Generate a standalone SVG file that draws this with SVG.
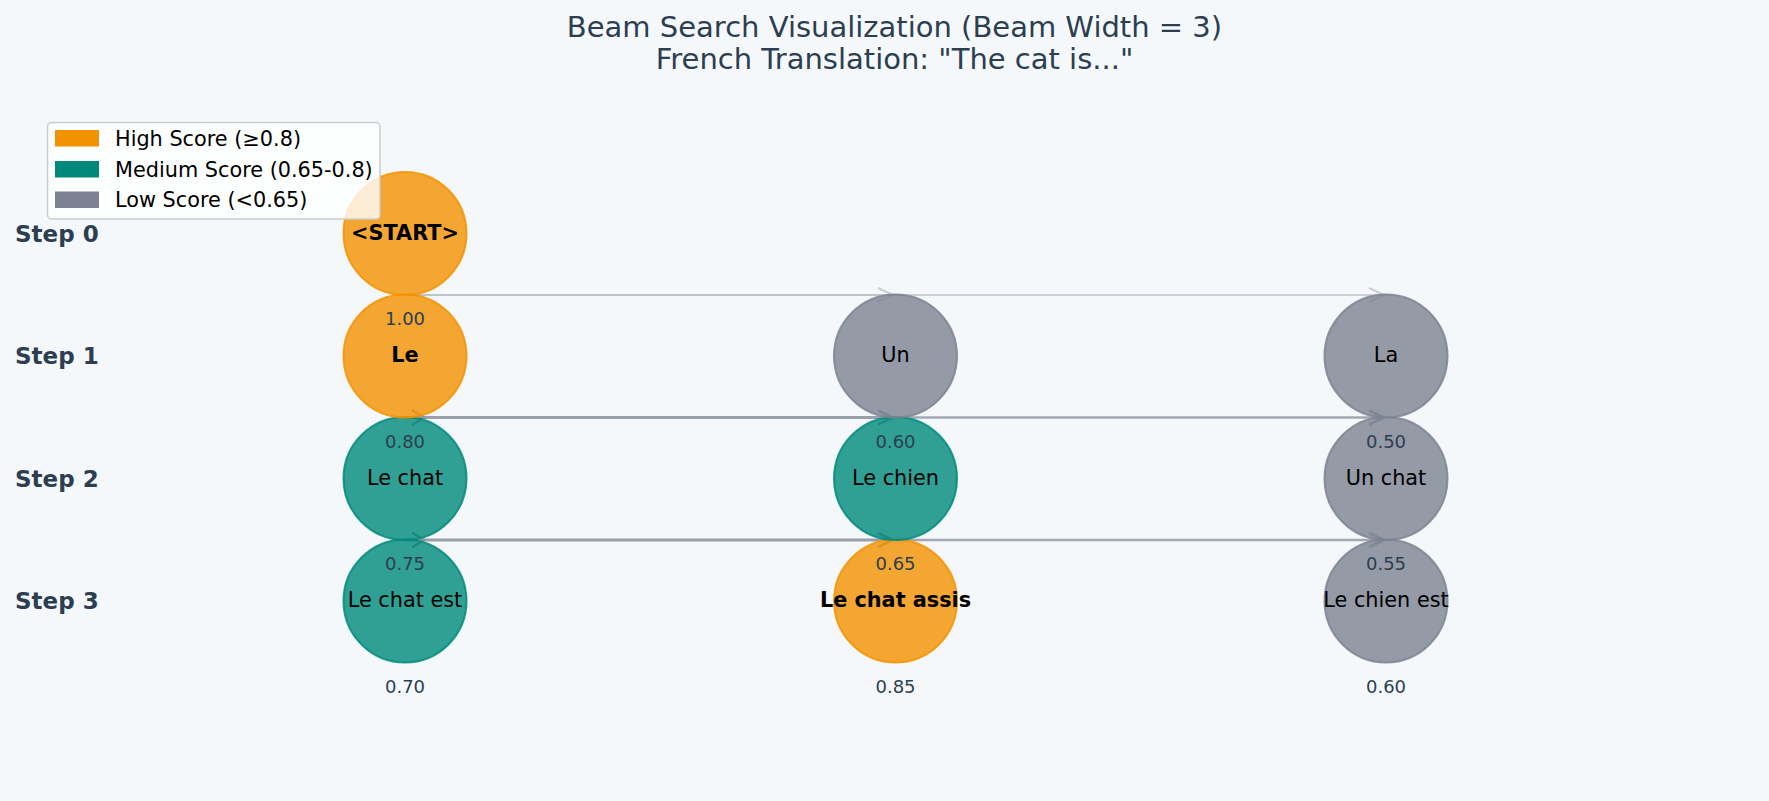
<svg xmlns="http://www.w3.org/2000/svg" width="1769" height="801" viewBox="0 0 1769 801">
<defs>
<style>
text{font-family:"DejaVu Sans","Liberation Sans",sans-serif}
.title{font-size:29px;fill:#2c3e50;text-anchor:middle}
.step{font-size:23px;font-weight:bold;fill:#2c3e50}
.lbl{font-size:20.8px;fill:#000;text-anchor:middle}
.b{font-weight:bold}
.sc{font-size:18px;fill:#2c3e50;text-anchor:middle}
.hi{fill:#F39200;fill-opacity:0.8;stroke:#F39200;stroke-opacity:0.85;stroke-width:2}
.md{fill:#00897B;fill-opacity:0.8;stroke:#00897B;stroke-opacity:0.85;stroke-width:2}
.lo{fill:#7C8291;fill-opacity:0.8;stroke:#7C8291;stroke-opacity:0.85;stroke-width:2}
.e0{stroke:#CDD1D7;stroke-width:2;fill:none}
.e0b{stroke:#BFC4CB;stroke-width:2;fill:none}
.e1{stroke:#9AA0AA;stroke-width:3;fill:none}
.e2{stroke:#A3A9B2;stroke-width:2.5;fill:none}
.leg{font-size:20.8px;fill:#000}
</style>
<marker id="aL" markerUnits="userSpaceOnUse" markerWidth="20" markerHeight="20" viewBox="-18 -10 20 20" refX="0" refY="0" orient="auto">
<path d="M-15,-7 L0,0 L-15,7" fill="none" stroke="#C8CCD3" stroke-width="2"/>
</marker>
<marker id="aD" markerUnits="userSpaceOnUse" markerWidth="20" markerHeight="20" viewBox="-18 -10 20 20" refX="0" refY="0" orient="auto">
<path d="M-15,-7 L0,0 L-15,7" fill="none" stroke="#8E949F" stroke-width="2.5"/>
</marker>
</defs>
<rect width="1769" height="801" fill="#F5F8FB"/>
<text class="title" x="894.5" y="37">Beam Search Visualization (Beam Width = 3)</text>
<text class="title" x="894.5" y="68.5">French Translation: "The cat is..."</text>
<g id="step-labels">
<text class="step" x="15" y="241.5">Step 0</text>
<text class="step" x="15" y="364">Step 1</text>
<text class="step" x="15" y="486.5">Step 2</text>
<text class="step" x="15" y="609">Step 3</text>
</g>
<g id="connectors">
<line class="e0" x1="405" y1="295" x2="1384" y2="295" marker-end="url(#aL)"/>
<line class="e0b" x1="405" y1="295" x2="893" y2="295" marker-end="url(#aL)"/>
<line class="e1" x1="405" y1="417.5" x2="893" y2="417.5" marker-end="url(#aD)"/>
<line class="e2" x1="895.5" y1="417.5" x2="1384" y2="417.5" marker-end="url(#aD)"/>
<path d="M412,410 L424,417.5 L412,425" fill="none" stroke="#8E949F" stroke-width="2.5"/>
<line class="e1" x1="405" y1="540" x2="893" y2="540" marker-end="url(#aD)"/>
<line class="e2" x1="895.5" y1="540" x2="1384" y2="540" marker-end="url(#aD)"/>
<path d="M412,532.5 L424,540 L412,547.5" fill="none" stroke="#8E949F" stroke-width="2.5"/>
</g>
<g id="node-le-chat-est"><circle class="md" cx="405" cy="601" r="61.5"/><text class="lbl" x="405" y="607">Le chat est</text><text class="sc" x="405" y="692.5">0.70</text></g>
<g id="node-le-chat-assis"><circle class="hi" cx="895.5" cy="601" r="61.5"/><text class="lbl b" x="895.5" y="607">Le chat assis</text><text class="sc" x="895.5" y="692.5">0.85</text></g>
<g id="node-le-chien-est"><circle class="lo" cx="1386" cy="601" r="61.5"/><text class="lbl" x="1386" y="607">Le chien est</text><text class="sc" x="1386" y="692.5">0.60</text></g>
<g id="node-le-chat"><circle class="md" cx="405" cy="478.5" r="61.5"/><text class="lbl" x="405" y="484.5">Le chat</text><text class="sc" x="405" y="570">0.75</text></g>
<g id="node-le-chien"><circle class="md" cx="895.5" cy="478.5" r="61.5"/><text class="lbl" x="895.5" y="484.5">Le chien</text><text class="sc" x="895.5" y="570">0.65</text></g>
<g id="node-un-chat"><circle class="lo" cx="1386" cy="478.5" r="61.5"/><text class="lbl" x="1386" y="484.5">Un chat</text><text class="sc" x="1386" y="570">0.55</text></g>
<g id="node-le"><circle class="hi" cx="405" cy="356" r="61.5"/><text class="lbl b" x="405" y="362">Le</text><text class="sc" x="405" y="447.5">0.80</text></g>
<g id="node-un"><circle class="lo" cx="895.5" cy="356" r="61.5"/><text class="lbl" x="895.5" y="362">Un</text><text class="sc" x="895.5" y="447.5">0.60</text></g>
<g id="node-la"><circle class="lo" cx="1386" cy="356" r="61.5"/><text class="lbl" x="1386" y="362">La</text><text class="sc" x="1386" y="447.5">0.50</text></g>
<g id="node-start"><circle class="hi" cx="405" cy="233.5" r="61.5"/><text class="lbl b" x="405" y="239.5">&lt;START&gt;</text><text class="sc" x="405" y="325">1.00</text></g>
<g id="legend">
<rect x="47.5" y="122.5" width="332.5" height="96.5" rx="4" fill="#FFFFFF" fill-opacity="0.8" stroke="#CCCCCC" stroke-width="1.5"/>
<rect x="55" y="130" width="44" height="16.5" fill="#F39200"/>
<rect x="55" y="161" width="44" height="16.5" fill="#00897B"/>
<rect x="55" y="191.5" width="44" height="16.5" fill="#7C8291"/>
<text class="leg" x="115" y="146">High Score (≥0.8)</text>
<text class="leg" x="115" y="176.5">Medium Score (0.65-0.8)</text>
<text class="leg" x="115" y="207">Low Score (&lt;0.65)</text>
</g>
</svg>
